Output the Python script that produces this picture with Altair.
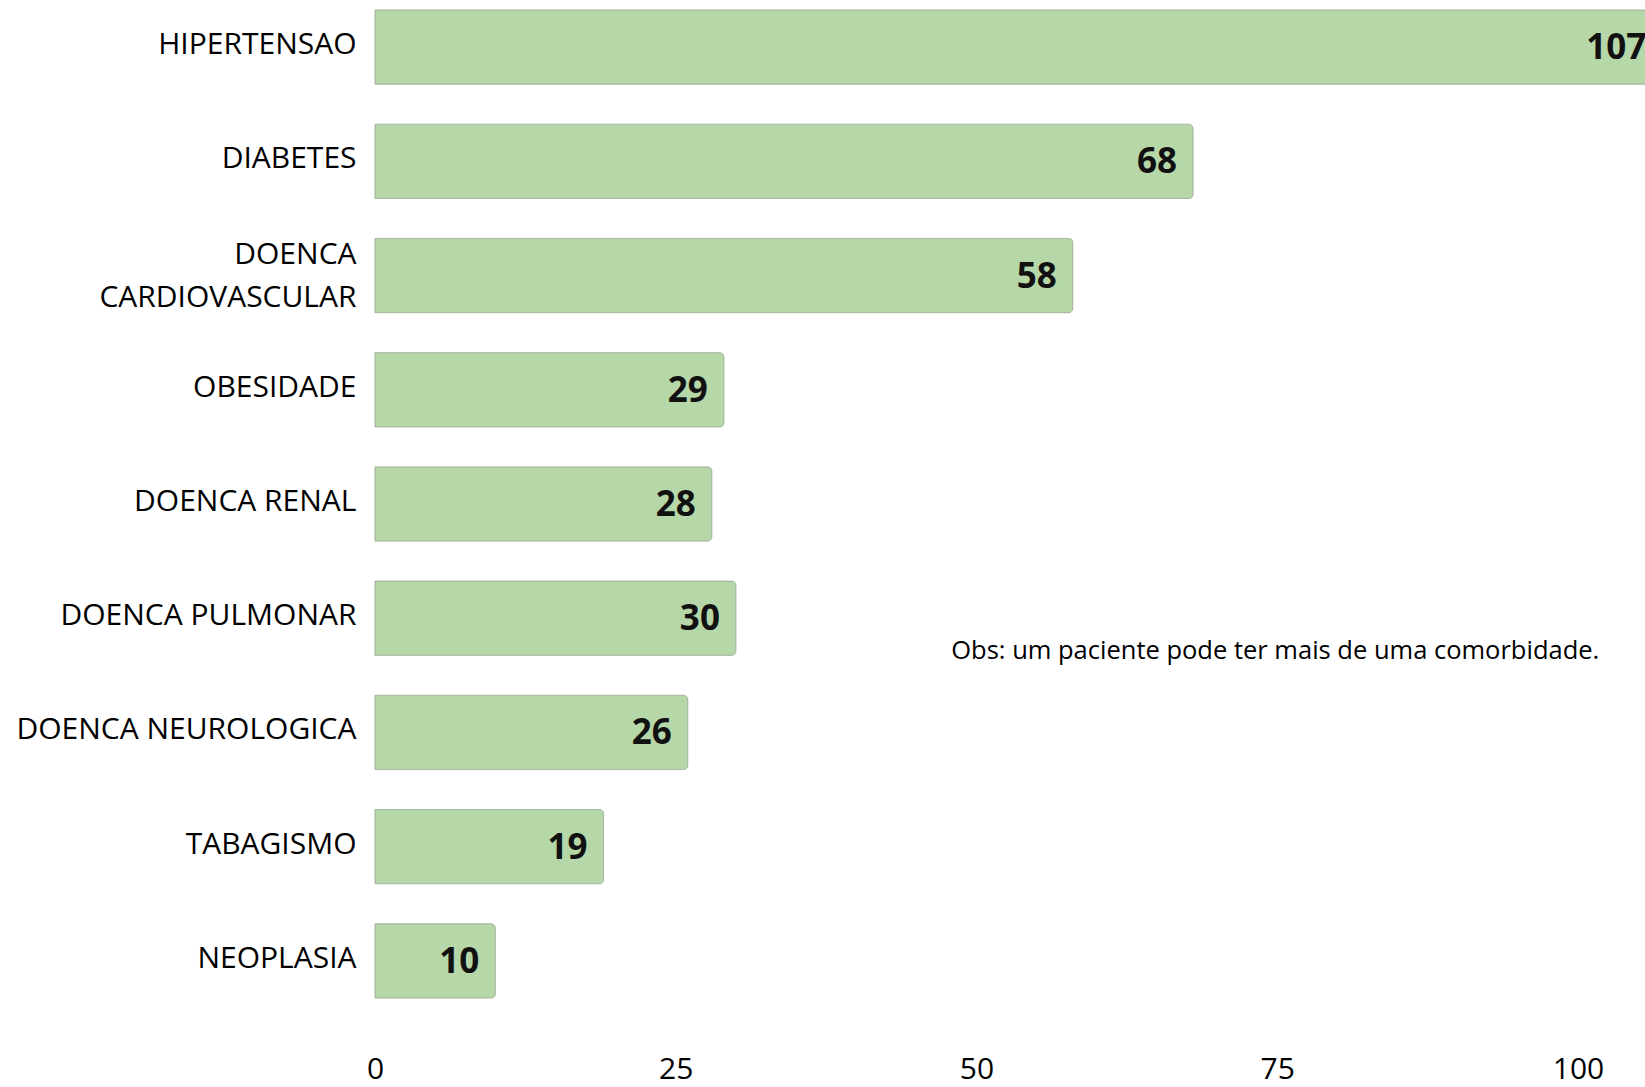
import altair as alt
import pandas as pd

categories = ["HIPERTENSAO", "DIABETES", "DOENCA CARDIOVASCULAR", "OBESIDADE",
              "DOENCA RENAL", "DOENCA PULMONAR", "DOENCA NEUROLOGICA",
              "TABAGISMO", "NEOPLASIA"]
values = [107, 68, 58, 29, 28, 30, 26, 19, 10]
x_ticks = [0, 25, 50, 75, 100]
note_text = "Obs: um paciente pode ter mais de uma comorbidade."

df = pd.DataFrame({"cat": categories, "val": values})

FONT = "Open Sans"

y_enc = alt.Y("cat:N", sort=categories, title=None,
              scale=alt.Scale(paddingInner=0.35, paddingOuter=0.0875),
              axis=alt.Axis(labelFont=FONT, labelFontSize=30, labelColor="#000000",
                            labelPadding=19, ticks=False, domain=False, labelLimit=0,
                            labelLineHeight=43,
                            labelOffset={"expr": "datum.value == 'DOENCA CARDIOVASCULAR' ? -21 : -2"},
                            labelExpr="datum.label == 'DOENCA CARDIOVASCULAR' ? ['DOENCA', 'CARDIOVASCULAR'] : datum.label"))
x_enc = alt.X("val:Q", title=None,
              scale=alt.Scale(domain=[0, 105.57], nice=False, zero=True),
              axis=alt.Axis(values=x_ticks, grid=False, ticks=False, domain=False,
                            labelFlush=False,
                            labelFont=FONT, labelFontSize=30, labelColor="#000000",
                            labelPadding=46))

bars = alt.Chart(df).mark_bar(cornerRadiusEnd=4).encode(
    x=x_enc, y=y_enc,
    fill=alt.value("#b6d7a8"),
    stroke=alt.value("#a6b8a0"),
    strokeWidth=alt.value(1),
)

labels = alt.Chart(df).mark_text(align="right", baseline="middle", dx=-16, dy=1,
                                 font=FONT, fontSize=35, fontWeight="bold",
                                 color="#111111").encode(
    x="val:Q", y=alt.Y("cat:N", sort=categories), text="val:Q")

note_df = pd.DataFrame({"cat": ["DOENCA PULMONAR"], "x": [47.9], "t": [note_text]})
note = alt.Chart(note_df).mark_text(align="left", baseline="middle", dy=33,
                                    font=FONT, fontSize=25.5, color="#000000").encode(
    x="x:Q", y=alt.Y("cat:N", sort=categories), text="t:N")

chart = alt.layer(bars, labels, note).properties(
    width=1270, height=1008,
    autosize=alt.AutoSizeParams(type="none"),
    padding={"left": 375, "top": 0, "right": 0, "bottom": 79},
    background="white",
).configure_view(stroke=None)

chart.save("out.html", embed_options={"renderer": "svg", "actions": False})
